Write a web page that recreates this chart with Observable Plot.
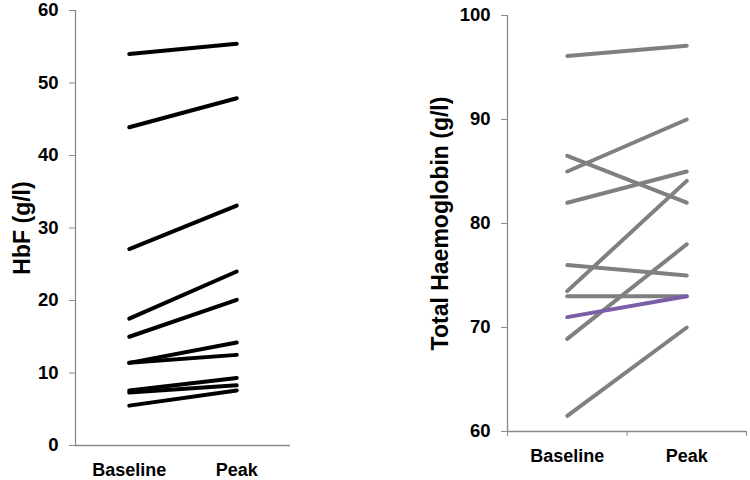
<!DOCTYPE html>
<html>
<head>
<meta charset="utf-8">
<script src="https://cdn.jsdelivr.net/npm/d3@7"></script>
<script src="https://cdn.jsdelivr.net/npm/@observablehq/plot@0.6"></script>
<style>
  html, body { margin: 0; padding: 0; background: #fff; }
  #wrap { display: flex; width: 750px; height: 480px; }
  svg { font-family: "Liberation Sans", Arial, sans-serif; }
</style>
</head>
<body>
<div id="wrap"></div>
<script>
// ---- data ----
const categories = ["Baseline", "Peak"];

const hbfBaseline = [54.0, 43.9, 27.1, 17.5, 15.0, 11.4, 11.4, 7.6, 7.3, 5.5];
const hbfPeak     = [55.4, 47.9, 33.1, 24.0, 20.1, 14.2, 12.5, 9.3, 8.3, 7.6];

const hbBaseline = [96.1, 85.0, 86.5, 82.0, 73.5, 76.0, 73.0, 71.0, 68.9, 61.5];
const hbPeak     = [97.1, 90.0, 82.0, 85.0, 84.1, 75.0, 73.0, 73.0, 78.0, 70.0];
const hbHighlight = 7; // index of the purple series

const hbfTicks = [0, 10, 20, 30, 40, 50, 60];
const hbTicks = [60, 70, 80, 90, 100];

const hbfTitle = "HbF (g/l)";
const hbTitle = "Total Haemoglobin (g/l)";

// ---- helpers ----
function toLong(base, peak) {
  const out = [];
  base.forEach((b, i) => {
    [b, peak[i]].forEach((v, j) => out.push({id: i, cat: categories[j], pos: j + 0.5, value: v}));
  });
  return out;
}

const axisColor = "#8a8a8a";
const font = "Liberation Sans, Arial, sans-serif";

// ---- left panel ----
const hbfData = toLong(hbfBaseline, hbfPeak);
const left = Plot.plot({
  width: 375,
  height: 480,
  marginLeft: 75,
  marginRight: 85,
  marginTop: 10,
  marginBottom: 35,
  style: {fontFamily: font, background: "#fff", overflow: "visible"},
  x: {type: "linear", domain: [0, categories.length], axis: null},
  y: {domain: [hbfTicks[0], hbfTicks[hbfTicks.length - 1]], axis: null},
  marks: [
    Plot.ruleX([0], {stroke: axisColor, strokeWidth: 1.3}),
    Plot.ruleY([hbfTicks[0]], {stroke: axisColor, strokeWidth: 1.3}),
    Plot.axisY({ticks: hbfTicks, tickSize: 6, tickPadding: 11, stroke: axisColor, fill: "#000",
                fontSize: 18.5, fontWeight: "bold", label: null, tickFormat: d => String(d)}),
    Plot.axisX({ticks: categories.map((c, i) => i + 0.5), tickSize: 0, tickPadding: 18,
                tickFormat: d => categories[Math.floor(d)], fontSize: 18, fontWeight: "bold",
                fill: "#000", label: null}),
    Plot.text([hbfTitle], {frameAnchor: "left", textAnchor: "middle", rotate: -90, dx: -53,
                           fontSize: 23, fontWeight: "bold", fill: "#000"}),
    Plot.line(hbfData, {x: "pos", y: "value", z: "id", stroke: "#000", strokeWidth: 4, strokeLinecap: "round"})
  ]
});

// ---- right panel ----
const hbData = toLong(hbBaseline, hbPeak);
const right = Plot.plot({
  width: 375,
  height: 480,
  marginLeft: 132,
  marginRight: 4,
  marginTop: 15,
  marginBottom: 49,
  style: {fontFamily: font, background: "#fff", overflow: "visible"},
  x: {type: "linear", domain: [0, categories.length], axis: null},
  y: {domain: [hbTicks[0], hbTicks[hbTicks.length - 1]], axis: null},
  marks: [
    Plot.ruleX([0], {stroke: axisColor, strokeWidth: 1.3}),
    Plot.ruleY([hbTicks[0]], {stroke: axisColor, strokeWidth: 1.3}),
    Plot.axisY({ticks: hbTicks, tickSize: 6, tickPadding: 11, stroke: axisColor, fill: "#000",
                fontSize: 18.5, fontWeight: "bold", label: null, tickFormat: d => String(d)}),
    Plot.axisX({ticks: d3.range(categories.length + 1), tickSize: 5, stroke: axisColor,
                tickFormat: () => "", label: null}),
    Plot.axisX({ticks: categories.map((c, i) => i + 0.5), tickSize: 0, tickPadding: 18,
                tickFormat: d => categories[Math.floor(d)], fontSize: 18, fontWeight: "bold",
                fill: "#000", label: null}),
    Plot.text([hbTitle], {frameAnchor: "left", textAnchor: "middle", rotate: -90, dx: -67,
                          fontSize: 23, fontWeight: "bold", fill: "#000"}),
    Plot.line(hbData.filter(d => d.id !== hbHighlight), {x: "pos", y: "value", z: "id", stroke: "#808080", strokeWidth: 4, strokeLinecap: "round"}),
    Plot.line(hbData.filter(d => d.id === hbHighlight), {x: "pos", y: "value", z: "id", stroke: "#7b5ea7", strokeWidth: 4, strokeLinecap: "round"})
  ]
});

const wrap = document.getElementById("wrap");
wrap.appendChild(left);
wrap.appendChild(right);
</script>
</body>
</html>
